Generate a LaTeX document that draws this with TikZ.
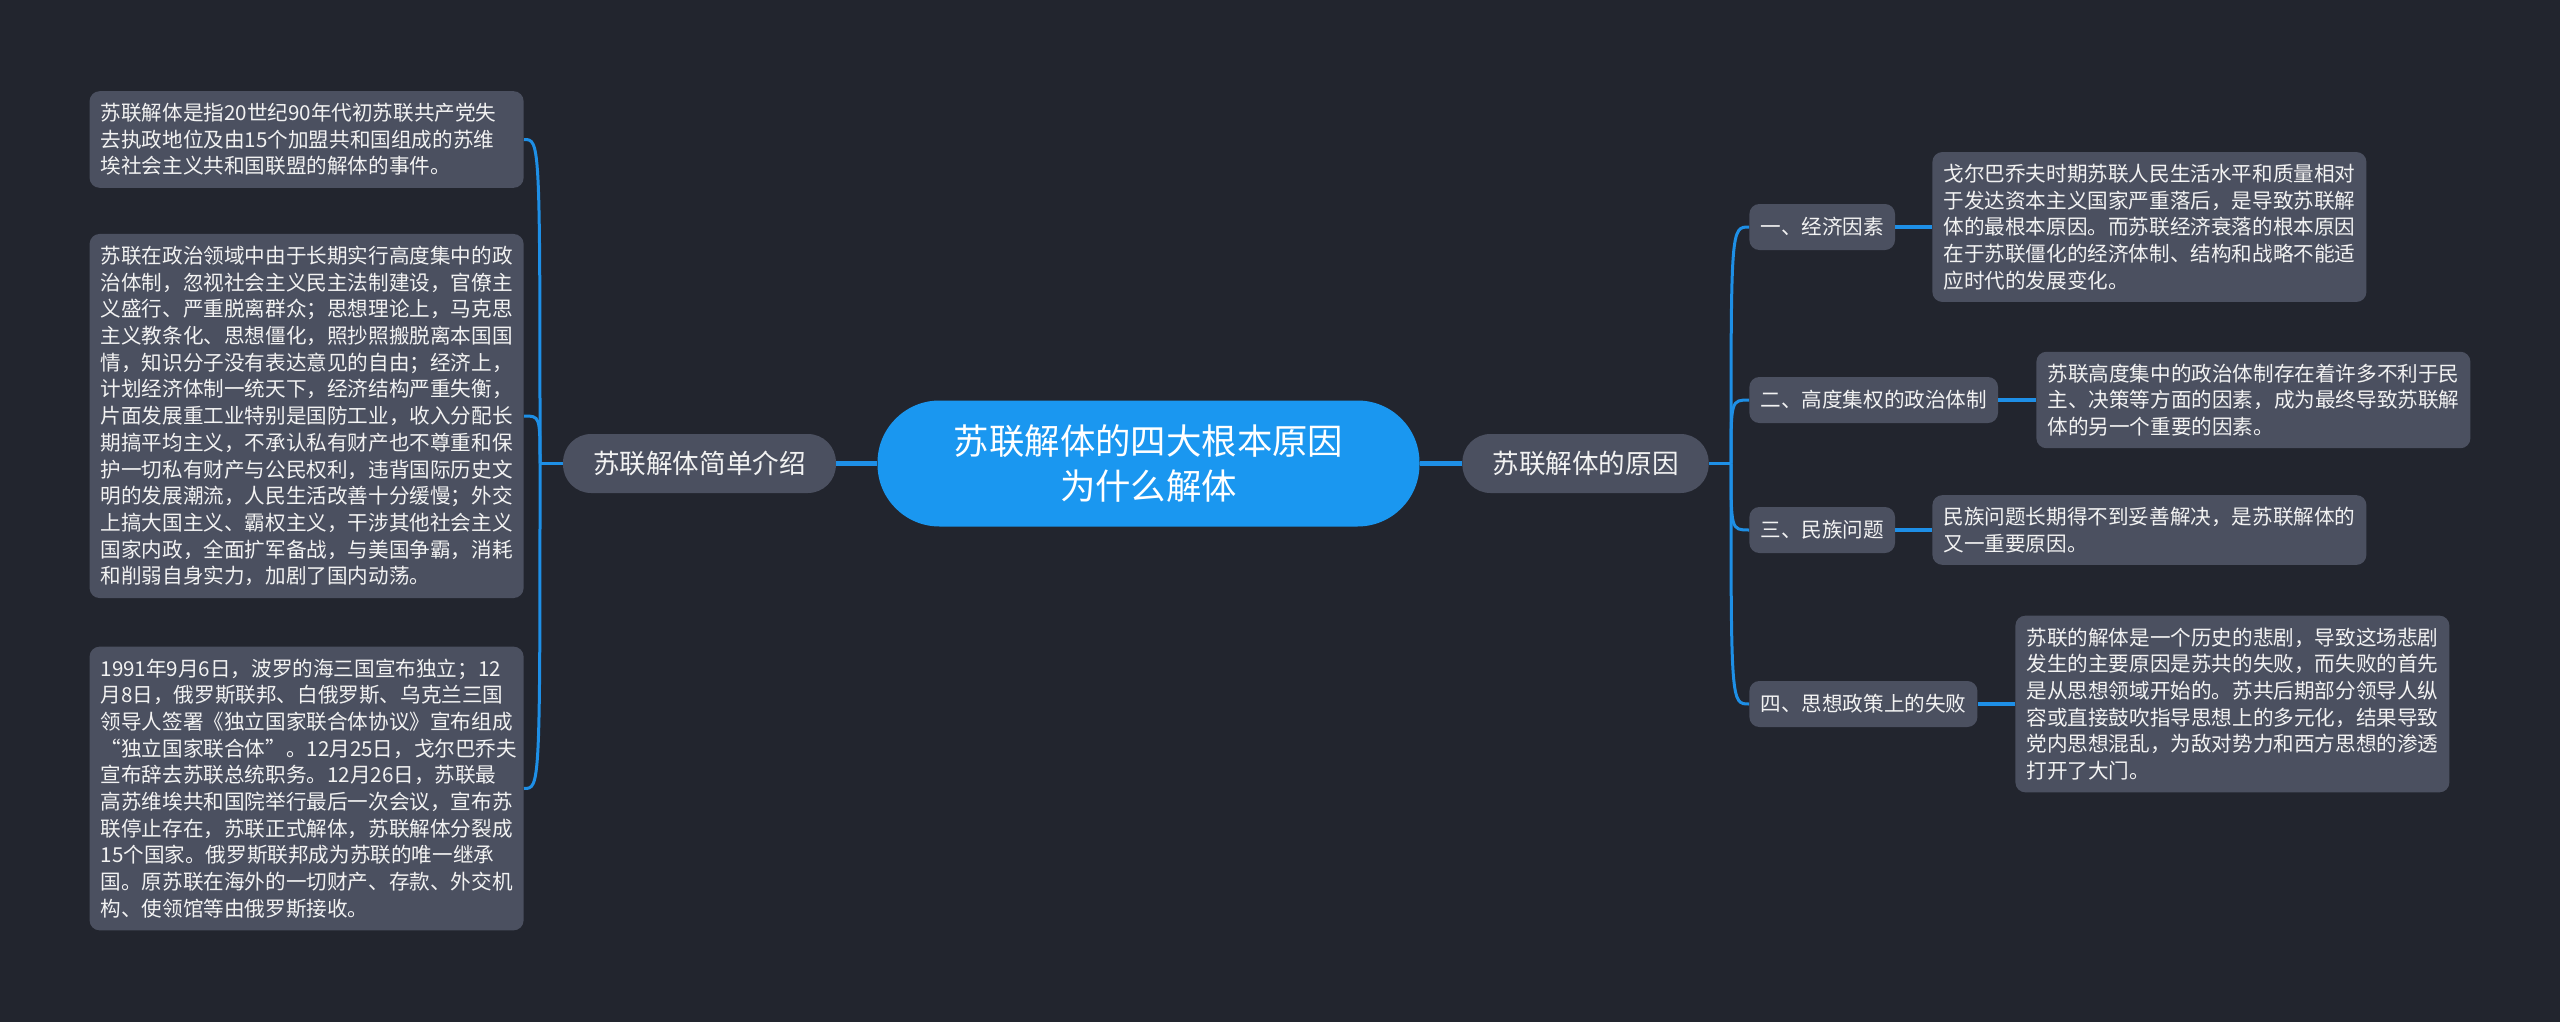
\documentclass[tikz,border=0pt]{standalone}
\usepackage{fontspec}
\setmainfont{Noto Sans CJK SC}
\usepackage{xcolor}
\usepackage{tikz}
\definecolor{MMBack}{HTML}{22252E}
\definecolor{MMBox}{HTML}{4B5060}
\definecolor{MMBlue}{HTML}{1A97F0}
\definecolor{MMLine}{HTML}{1E8FE6}
\definecolor{MMText}{HTML}{F2F2F2}

\begin{document}
\begin{tikzpicture}[x=0.5pt,y=-0.5pt,
  rootbox/.style={fill=MMBlue,text=white,rounded corners=31pt,minimum width=271pt,minimum height=63pt,align=center,font=\fontsize{17.7pt}{22.9pt}\selectfont},
  topicbox/.style={fill=MMBox,text=MMText,rounded corners=14pt,minimum height=29.5pt,inner xsep=15pt,font=\fontsize{13.3pt}{16pt}\selectfont},
  subbox/.style={fill=MMBox,text=MMText,rounded corners=5pt,minimum height=23pt,inner xsep=5.5pt,font=\fontsize{10.3pt}{13.35pt}\selectfont},
  leafbox/.style={fill=MMBox,text=MMText,rounded corners=5pt,inner xsep=5.5pt,inner ysep=6pt,text width=206pt,align=left,font=\fontsize{10.3pt}{13.35pt}\selectfont},
  link/.style={MMLine,line width=1.5pt},
  thicklink/.style={MMLine,line width=2.2pt}]
\useasboundingbox (0,0) rectangle (2560,1022);
\fill[MMBack] (0,0) rectangle (2560,1022);

% centre and main topics
\node[rootbox] (root) at (1148.5,463.5) {苏联解体的四大根本原因\\为什么解体};
\node[topicbox] (intro) at (699.5,463.5) {苏联解体简单介绍};
\node[topicbox] (cause) at (1585.5,463.5) {苏联解体的原因};
\draw[thicklink] (root.west) -- (intro.east);
\draw[thicklink] (root.east) -- (cause.west);

% left side
\node[leafbox,anchor=east] (l1) at (524,139.5) {苏联解体是指20世纪90年代初苏联共产党失\\去执政地位及由15个加盟共和国组成的苏维\\埃社会主义共和国联盟的解体的事件。};
\node[leafbox,anchor=east] (l2) at (524,416) {苏联在政治领域中由于长期实行高度集中的政\\治体制，忽视社会主义民主法制建设，官僚主\\义盛行、严重脱离群众；思想理论上，马克思\\主义教条化、思想僵化，照抄照搬脱离本国国\\情，知识分子没有表达意见的自由；经济上，\\计划经济体制一统天下，经济结构严重失衡，\\片面发展重工业特别是国防工业，收入分配长\\期搞平均主义，不承认私有财产也不尊重和保\\护一切私有财产与公民权利，违背国际历史文\\明的发展潮流，人民生活改善十分缓慢；外交\\上搞大国主义、霸权主义，干涉其他社会主义\\国家内政，全面扩军备战，与美国争霸，消耗\\和削弱自身实力，加剧了国内动荡。};
\node[leafbox,anchor=east] (l3) at (524,788.5) {1991年9月6日，波罗的海三国宣布独立；12\\月8日，俄罗斯联邦、白俄罗斯、乌克兰三国\\领导人签署《独立国家联合体协议》宣布组成\\“独立国家联合体”。12月25日，戈尔巴乔夫\\宣布辞去苏联总统职务。12月26日，苏联最\\高苏维埃共和国院举行最后一次会议，宣布苏\\联停止存在，苏联正式解体，苏联解体分裂成\\15个国家。俄罗斯联邦成为苏联的唯一继承\\国。原苏联在海外的一切财产、存款、外交机\\构、使领馆等由俄罗斯接收。};
\coordinate (lj) at (540,463.5);
\draw[link] (intro.west) -- (lj);
\foreach \leaf in {l1,l2,l3}
  \draw[link] (lj) .. controls (lj |- \leaf.east) and (lj |- \leaf.east) .. (\leaf.east);

% right side
\node[subbox,anchor=west] (s1) at (1749,227) {一、经济因素};
\node[subbox,anchor=west] (s2) at (1749,400) {二、高度集权的政治体制};
\node[subbox,anchor=west] (s3) at (1749,530) {三、民族问题};
\node[subbox,anchor=west] (s4) at (1749,704) {四、思想政策上的失败};
\coordinate (rj) at (1731,463.5);
\draw[link] (cause.east) -- (rj);
\foreach \sub in {s1,s2,s3,s4}
  \draw[link] (rj) .. controls (rj |- \sub.west) and (rj |- \sub.west) .. (\sub.west);

\node[leafbox,anchor=west] (r1) at (1932,227) {戈尔巴乔夫时期苏联人民生活水平和质量相对\\于发达资本主义国家严重落后，是导致苏联解\\体的最根本原因。而苏联经济衰落的根本原因\\在于苏联僵化的经济体制、结构和战略不能适\\应时代的发展变化。};
\node[leafbox,anchor=west] (r2) at (2036,400) {苏联高度集中的政治体制存在着许多不利于民\\主、决策等方面的因素，成为最终导致苏联解\\体的另一个重要的因素。};
\node[leafbox,anchor=west] (r3) at (1932,530) {民族问题长期得不到妥善解决，是苏联解体的\\又一重要原因。};
\node[leafbox,anchor=west] (r4) at (2015,704) {苏联的解体是一个历史的悲剧，导致这场悲剧\\发生的主要原因是苏共的失败，而失败的首先\\是从思想领域开始的。苏共后期部分领导人纵\\容或直接鼓吹指导思想上的多元化，结果导致\\党内思想混乱，为敌对势力和西方思想的渗透\\打开了大门。};
\draw[thicklink] (s1.east) -- (r1.west);
\draw[thicklink] (s2.east) -- (r2.west);
\draw[thicklink] (s3.east) -- (r3.west);
\draw[thicklink] (s4.east) -- (r4.west);
\end{tikzpicture}
\end{document}
